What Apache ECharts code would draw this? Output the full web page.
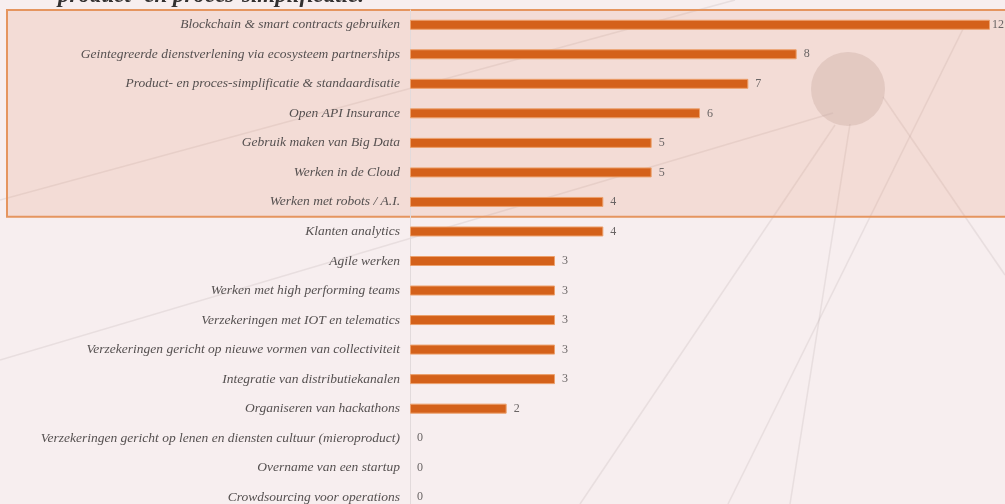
<!DOCTYPE html>
<html>
<head>
<meta charset="utf-8">
<script src="https://cdn.jsdelivr.net/npm/echarts@6/dist/echarts.min.js"></script>
<style>
html,body{margin:0;padding:0;background:#f7eeef;overflow:hidden;}
#chart{width:1005px;height:512px;}
</style>
</head>
<body>
<div id="chart"></div>
<script>
const titleText = 'product- en proces-simplificatie.';
const categories = [
  'Blockchain & smart contracts gebruiken',
  'Geintegreerde dienstverlening via ecosysteem partnerships',
  'Product- en proces-simplificatie & standaardisatie',
  'Open API Insurance',
  'Gebruik maken van Big Data',
  'Werken in de Cloud',
  'Werken met robots / A.I.',
  'Klanten analytics',
  'Agile werken',
  'Werken met high performing teams',
  'Verzekeringen met IOT en telematics',
  'Verzekeringen gericht op nieuwe vormen van collectiviteit',
  'Integratie van distributiekanalen',
  'Organiseren van hackathons',
  'Verzekeringen gericht op lenen en diensten cultuur (mieroproduct)',
  'Overname van een startup',
  'Crowdsourcing voor operations'
];
const values = [12, 8, 7, 6, 5, 5, 4, 4, 3, 3, 3, 3, 3, 2, 0, 0, 0];
const highlightCount = 7;
const xMin = 0, xMax = 12;

const maxVal = Math.max.apply(null, values);
const chart = echarts.init(document.getElementById('chart'), null, {renderer: 'canvas'});

const decoStroke = 'rgba(175,160,160,0.20)';
const decoLines = [
  [0, 360, 833, 113],
  [0, 200, 735, 0],
  [883, 97, 1005, 275],
  [835, 125, 580, 504],
  [850, 124, 790, 504],
  [965, 25, 728, 504]
];

const option = {
  backgroundColor: '#f7eeef',
  animation: false,
  grid: {left: 410, right: 15, top: 10, bottom: 0, containLabel: false},
  xAxis: {
    type: 'value', min: xMin, max: xMax, show: false
  },
  yAxis: {
    type: 'category',
    data: categories,
    inverse: true,
    axisLine: {show: true, lineStyle: {color: '#e2dadb', width: 1}},
    axisTick: {show: false},
    axisLabel: {
      margin: 10,
      color: '#555050',
      fontFamily: 'Liberation Serif',
      fontStyle: 'italic',
      fontSize: 13.5
    }
  },
  series: [{
    type: 'bar',
    data: values.map(v => ({
      value: v,
      itemStyle: v === 0 ? {borderWidth: 0} : undefined,
      label: {distance: v === maxVal ? 2 : 7}
    })),
    barWidth: 10,
    itemStyle: {color: '#d4611a', borderColor: '#eca06c', borderWidth: 1},
    label: {
      show: true,
      position: 'right',
      color: '#6a6565',
      fontFamily: 'Liberation Serif',
      fontSize: 12
    },
    z: 3
  }]
};
chart.setOption(option);

const c0 = chart.convertToPixel({yAxisIndex: 0}, categories[0]);
const c1 = chart.convertToPixel({yAxisIndex: 0}, categories[1]);
const band = c1 - c0;

const graphics = [];
decoLines.forEach(l => graphics.push({
  type: 'line', silent: true, z: -10,
  shape: {x1: l[0], y1: l[1], x2: l[2], y2: l[3]},
  style: {stroke: decoStroke, lineWidth: 1.6}
}));
graphics.push({
  type: 'circle', silent: true, z: -9,
  shape: {cx: 848, cy: 89, r: 37},
  style: {fill: 'rgba(190,172,170,0.35)'}
});
graphics.push({
  type: 'rect', silent: true, z: -5,
  shape: {x: 7, y: c0 - band / 2, width: 1010, height: band * highlightCount},
  style: {fill: 'rgba(225,140,100,0.18)', stroke: '#e5955f', lineWidth: 2}
});
graphics.push({
  type: 'text', silent: true, z: 5,
  left: 58, top: -15,
  style: {
    text: titleText,
    fill: '#333030',
    font: 'italic bold 23px "Liberation Serif"'
  }
});
chart.setOption({graphic: graphics});
</script>
</body>
</html>
